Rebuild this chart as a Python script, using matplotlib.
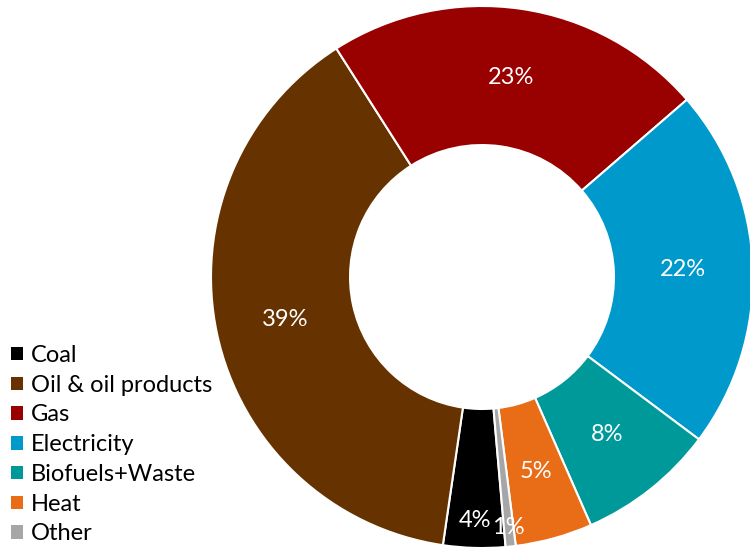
# Final energy consumption by fuel, donut chart with legend bottom-left.
# out: out.png
import matplotlib

matplotlib.use("Agg")
import matplotlib.pyplot as plt
from matplotlib.patches import Patch

FUELS = ["Coal", "Oil & oil products", "Gas", "Electricity",
         "Biofuels+Waste", "Heat", "Other"]
SHARES = [3.7, 38.7, 22.7, 21.6, 8.2, 4.6, 0.6]
COLORS = ["#000000", "#663300", "#990000", "#0099CC",
          "#009999", "#E96C17", "#A6A6A6"]

# small slices whose labels sit further out, near the rim
PUSHED_OUT = {"Coal": 0.90, "Other": 0.93}

plt.rcParams["font.family"] = ["Lato", "DejaVu Sans"]


def main():
    fig = plt.figure(figsize=(7.5, 5.51), dpi=100)
    W, H = 750, 551
    cx, cy, r = 482, 277, 271
    ax = fig.add_axes([(cx - r) / W, (H - cy - r) / H, 2 * r / W, 2 * r / H])

    mid = (1 + 0.487) / 2
    wedges, texts, pcts = ax.pie(
        SHARES,
        colors=COLORS,
        startangle=90 - 175.0,
        counterclock=False,
        radius=1,
        autopct="%.0f%%",
        pctdistance=mid,
        wedgeprops=dict(width=1 - 0.487, edgecolor="white", linewidth=1.5),
        textprops=dict(color="white", fontsize=17),
    )
    for name, t in zip(FUELS, pcts):
        if name in PUSHED_OUT:
            x, y = t.get_position()
            k = PUSHED_OUT[name] / mid
            t.set_position((x * k, y * k))

    ax.set_xlim(-1, 1)
    ax.set_ylim(-1, 1)
    ax.axis("off")

    handles = [Patch(facecolor=c, edgecolor="none") for c in COLORS]
    fig.legend(
        handles, FUELS,
        loc="upper left",
        bbox_to_anchor=(11 / W, 1 - 345 / H),
        frameon=False,
        fontsize=17,
        handlelength=0.5,
        handleheight=0.5,
        handletextpad=0.36,
        labelspacing=0.37,
        borderpad=0,
        borderaxespad=0,
    )

    fig.savefig("out.png", dpi=100)
    plt.close(fig)


if __name__ == "__main__":
    main()
